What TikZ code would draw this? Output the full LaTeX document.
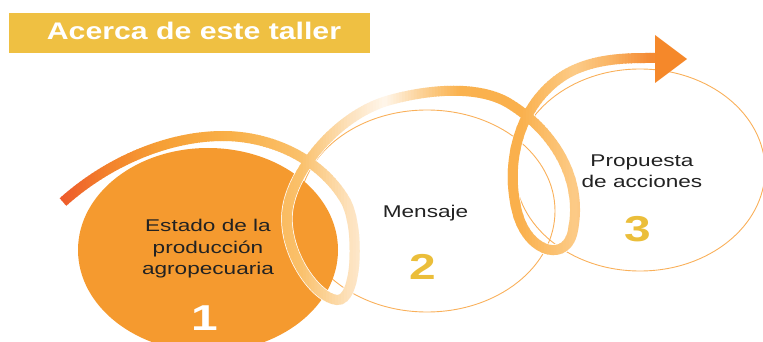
\documentclass[tikz,border=0pt]{standalone}
\usepackage{fontspec}
\newfontfamily\bodyfont[FakeStretch=1.33]{Liberation Sans}
\newfontfamily\titlefont[FakeStretch=1.26]{Liberation Sans}

\definecolor{bannergold}{HTML}{EFC042}
\definecolor{stageorange}{HTML}{F59A2F}
\definecolor{ringline}{HTML}{F9B05A}
\definecolor{numgold}{HTML}{EBBE3A}
\definecolor{textdark}{HTML}{222222}

% colours along the ribbon, left to right
\definecolor{rb0}{HTML}{EE5B2B}
\definecolor{rb1}{HTML}{F3832C}
\definecolor{rb2}{HTML}{F69F35}
\definecolor{rb3}{HTML}{F9B048}
\definecolor{rb4}{HTML}{FAC06A}
\definecolor{rb5}{HTML}{FDE2BD}
\definecolor{rb6}{HTML}{FFF6EB}
\definecolor{rb7}{HTML}{FCD39A}
\definecolor{rb8}{HTML}{FAB24E}
\definecolor{rb9}{HTML}{FAB04C}
\definecolor{rb10}{HTML}{FCCB87}
\definecolor{rb11}{HTML}{FAB565}
\definecolor{rb12}{HTML}{F48A33}
\definecolor{rb13}{HTML}{F5882A}

\def\ribbonpath{(63,202) .. controls (110,160) and (170,136) .. (223,136)
  .. controls (270,136) and (320,158) .. (345,200)
  .. controls (360,225) and (358,302) .. (337,300)
  .. controls (316,298) and (285,255) .. (287,215)
  .. controls (289,175) and (335,115) .. (390,100)
  .. controls (430,89) and (480,85) .. (510,104)
  .. controls (555,132) and (583,180) .. (573,230)
  .. controls (568,262) and (530,255) .. (518,215)
  .. controls (505,170) and (515,110) .. (560,78)
  .. controls (590,57) and (630,58) .. (656,58)}

\begin{document}
\begin{tikzpicture}[x=1pt,y=-1pt,
    stagetext/.style={text=textdark,align=center,inner sep=0pt,
      font=\bodyfont\fontsize{17}{21.5}\selectfont},
    stagenum/.style={inner sep=0pt,anchor=base,
      font=\bodyfont\bfseries\fontsize{36}{36}\selectfont},
    ring/.style={draw=ringline,line width=0.9pt}]
\useasboundingbox (0,0) rectangle (763,342);

 \fill[bannergold] (9,13) rectangle (370,53);
 \node [anchor=base,inner sep=0pt,text=white,
        font=\titlefont\bfseries\fontsize{24}{24}\selectfont] (title) at (194,40) {Acerca de este taller};

 \draw[ring] (427,211) ellipse [x radius=128,y radius=101];
 \draw[ring] (640,170) ellipse [x radius=125,y radius=101];
 \fill[stageorange] (208,250) ellipse [x radius=130,y radius=102];

%  the looping ribbon, coloured strip by strip from left to right
 \draw[white,line width=11.5pt] \ribbonpath;
 \foreach \xa/\xb/\ca/\cb in {50/62/rb0/rb0, 62/110/rb0/rb1, 110/160/rb1/rb2, 160/230/rb2/rb3,
     230/300/rb3/rb4, 300/350/rb4/rb5, 350/385/rb5/rb6, 385/420/rb6/rb7, 420/460/rb7/rb8,
     460/520/rb8/rb9, 520/575/rb9/rb10, 575/610/rb10/rb11, 610/650/rb11/rb12, 650/690/rb12/rb13}{
   \pgfmathtruncatemacro\nstrip{max(1,round((\xb-\xa)/3))}
   \foreach \k in {1,...,\nstrip}{
     \pgfmathsetmacro\xl{\xa+(\k-1)*(\xb-\xa)/\nstrip}
     \pgfmathsetmacro\xr{\xa+\k*(\xb-\xa)/\nstrip}
     \pgfmathsetmacro\pct{100*(\k-0.5)/\nstrip}
     \colorlet{stripcol}{\cb!\pct!\ca}
     \begin{scope}
       \clip (\xl-0.3,0) rectangle (\xr+0.3,342);
       \draw[stripcol,line width=10pt] \ribbonpath;
     \end{scope}
   }
 }
 \fill[rb13] (655,35) -- (687,59) -- (655,83) -- cycle;

 \node [stagetext] (stage1) at (208,249) {Estado de la\\producción\\agropecuaria};
 \node [stagetext,anchor=base] (stage2) at (425.5,217) {Mensaje};
 \node [stagetext] (stage3) at (642,171) {Propuesta\\de acciones};

 \node [stagenum,text=white] (num1) at (205,330) {1};
 \node [stagenum,text=numgold] (num2) at (423,279) {2};
 \node [stagenum,text=numgold] (num3) at (638,241) {3};
\end{tikzpicture}
\end{document}
